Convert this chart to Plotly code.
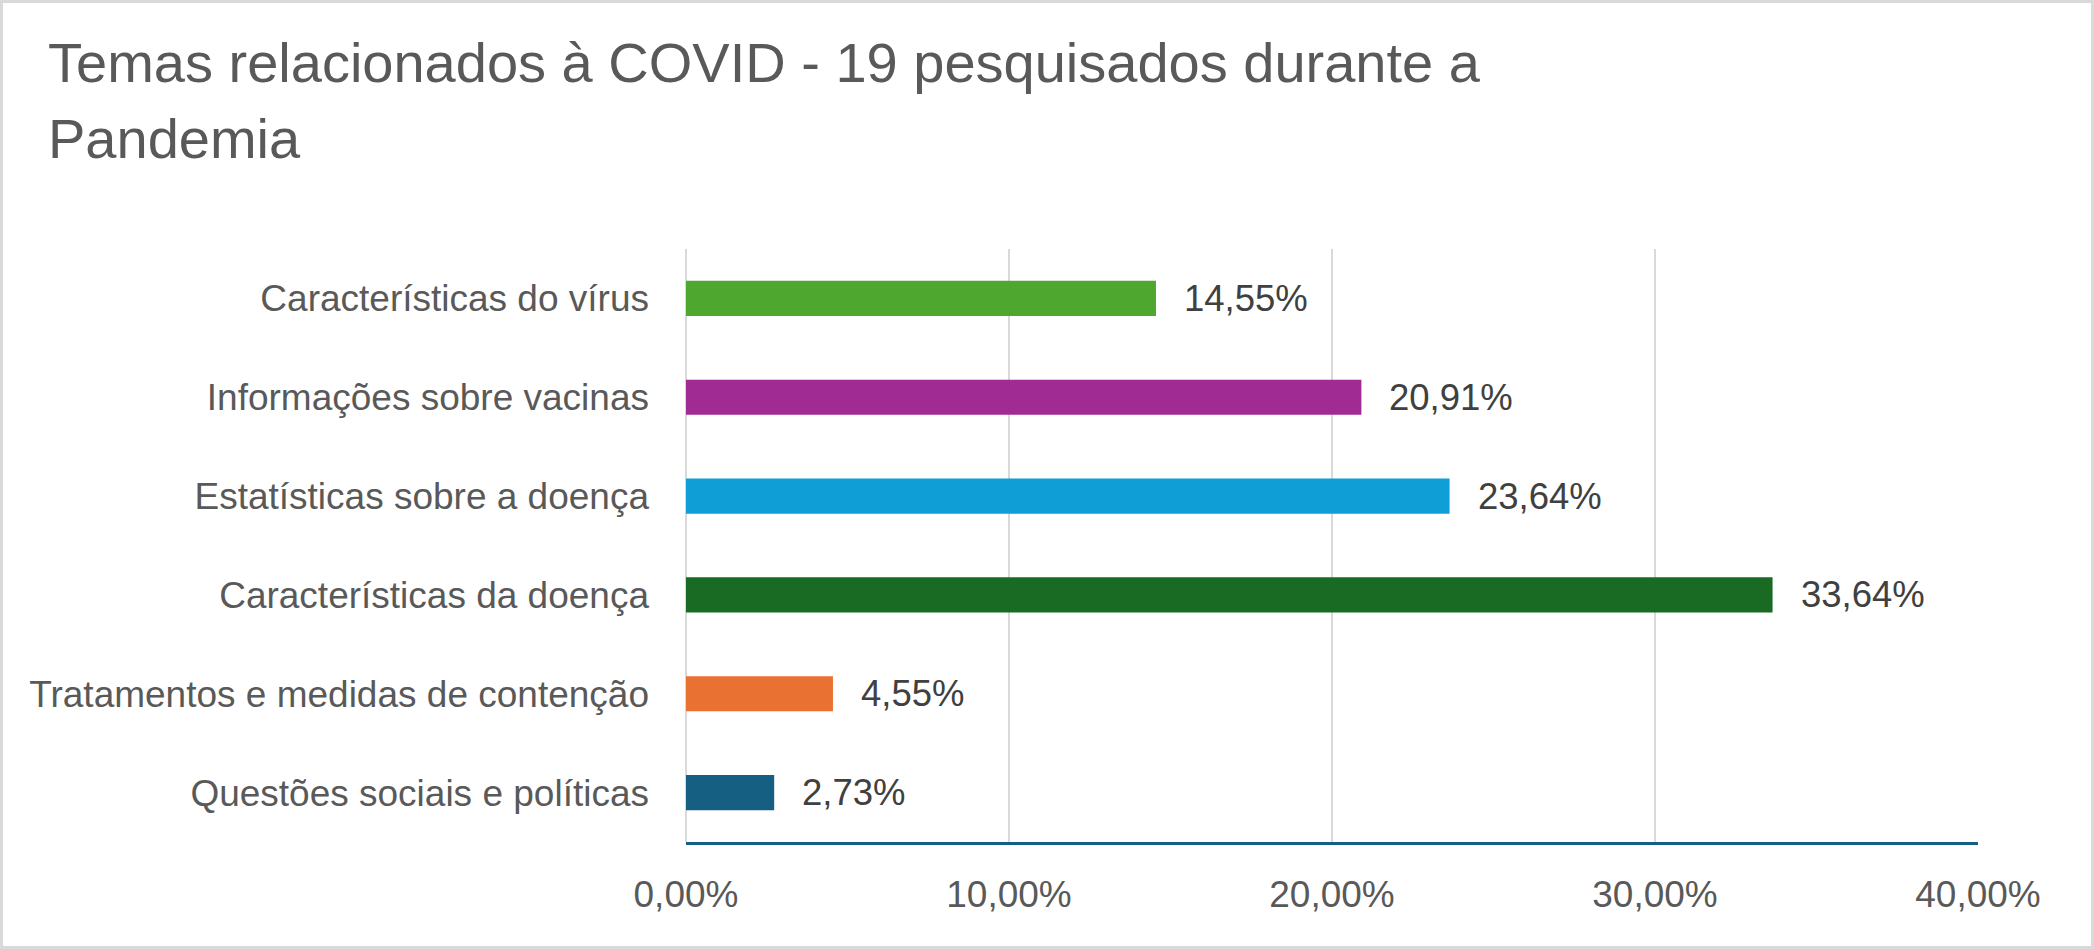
import plotly.graph_objects as go

categories = [
    "Questões sociais e políticas",
    "Tratamentos e medidas de contenção",
    "Características da doença",
    "Estatísticas sobre a doença",
    "Informações sobre vacinas",
    "Características do vírus",
]
values = [2.73, 4.55, 33.64, 23.64, 20.91, 14.55]
colors = ["#156082", "#E97132", "#196B24", "#0F9ED5", "#A02B93", "#4EA72E"]
value_labels = ["2,73%", "4,55%", "33,64%", "23,64%", "20,91%", "14,55%"]
x_ticks = [0, 10, 20, 30, 40]
x_tick_labels = ["0,00%", "10,00%", "20,00%", "30,00%", "40,00%"]
title_lines = ["Temas relacionados à COVID - 19 pesquisados durante a", "Pandemia"]

W, H = 2094, 949
L, R, T, B = 686, 116, 249, 107
PW, PH = W - L - R, H - T - B

FONT = "Liberation Sans, Arial, sans-serif"

fig = go.Figure()
fig.add_trace(go.Bar(
    x=values, y=categories, orientation="h",
    marker=dict(color=colors, line=dict(width=0)),
    hoverinfo="skip",
))

annotations = []
for v, c, t in zip(values, categories, value_labels):
    annotations.append(dict(
        x=v, y=c, xref="x", yref="y", text=t, showarrow=False,
        xanchor="left", yanchor="middle", xshift=26,
        font=dict(family=FONT, size=36.5, color="#404040"),
    ))

def py(ypix):
    return (H - B - ypix) / PH

def px(xpix):
    return (xpix - L) / PW

title_y = [62, 139]
for line, yp in zip(title_lines, title_y):
    annotations.append(dict(
        x=px(46), y=py(yp), xref="paper", yref="paper", text=line,
        showarrow=False, xanchor="left", yanchor="middle",
        font=dict(family=FONT, size=56, color="#595959"),
    ))

fig.update_layout(
    width=W, height=H,
    margin=dict(l=L, r=R, t=T, b=B, pad=0),
    paper_bgcolor="white", plot_bgcolor="white",
    separators=",.",
    showlegend=False,
    bargap=0.645,
    annotations=annotations,
    shapes=[dict(
        type="rect", xref="paper", yref="paper",
        x0=px(1.5), x1=px(W - 1.5), y0=py(H - 1.5), y1=py(1.5),
        line=dict(color="#D9D9D9", width=3), fillcolor="rgba(0,0,0,0)", layer="below",
    )],
    xaxis=dict(
        range=[0, 40], tickvals=x_ticks, ticktext=x_tick_labels,
        showgrid=True, gridcolor="#D9D9D9", gridwidth=2,
        zeroline=True, zerolinecolor="#D9D9D9", zerolinewidth=2,
        showline=True, linecolor="#156082", linewidth=3,
        ticks="", ticklabelstandoff=18,
        tickfont=dict(family=FONT, size=37, color="#595959"),
        fixedrange=True,
    ),
    yaxis=dict(
        categoryorder="array", categoryarray=categories,
        showgrid=False, zeroline=False, showline=False, ticks="",
        ticklabelstandoff=36,
        tickfont=dict(family=FONT, size=37, color="#595959"),
        fixedrange=True,
    ),
)

fig.write_html(
    "out.html",
    config={"displayModeBar": False},
    post_script="document.body.style.margin='0';document.body.style.overflow='hidden';",
)
